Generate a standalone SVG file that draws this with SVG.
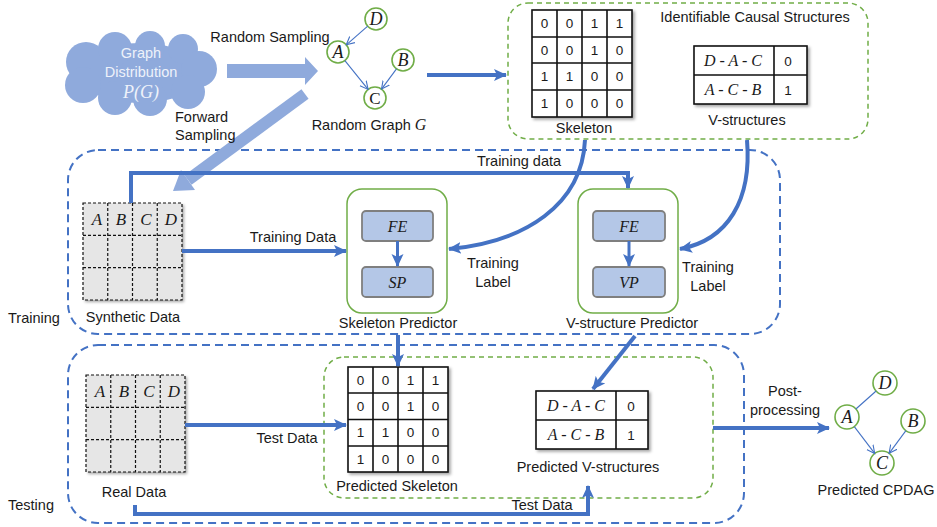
<svg xmlns="http://www.w3.org/2000/svg" width="937" height="527" viewBox="0 0 937 527">
<defs>
<style>
.t{font-family:"Liberation Sans",Arial,sans-serif;font-size:14.5px;fill:#1a1a1a}
.m{font-family:"Liberation Serif","Times New Roman",serif;font-style:italic;font-size:18px;fill:#1a1a1a}
.d{font-family:"Liberation Sans",Arial,sans-serif;font-size:13.5px;fill:#1a1a1a}
.blue{stroke:#4472C4;stroke-width:4;fill:none}
.node{fill:#fff;stroke:#70AD47;stroke-width:1.6}
.edge{stroke:#4472C4;stroke-width:1.1;fill:none}
.grid{fill:#fff;stroke:#111;stroke-width:1.6}
.dgrid{stroke:#111;stroke-width:1.2;stroke-dasharray:3 2;fill:none}
.inner{fill:#B4C7E7;stroke:#7F7F7F;stroke-width:1.8}
.pred{fill:#fff;stroke:#70AD47;stroke-width:1.5}
</style>
<marker id="ah" markerUnits="userSpaceOnUse" markerWidth="14" markerHeight="14" refX="12" refY="7" orient="auto"><path d="M0,1 L13,7 L0,13 L3,7 Z" fill="#4472C4"/></marker>
<marker id="oh" markerUnits="userSpaceOnUse" markerWidth="10" markerHeight="10" refX="8" refY="5" orient="auto"><path d="M0,1 L8,5 L0,9" fill="none" stroke="#4472C4" stroke-width="1.1"/></marker>
<filter id="sh" x="-10%" y="-10%" width="125%" height="125%"><feDropShadow dx="2" dy="2" stdDeviation="1.5" flood-color="#000" flood-opacity="0.35"/></filter>
</defs>
<rect width="937" height="527" fill="#fff"/>

<g id="training-box"><rect x="68" y="150" width="712" height="184" rx="30" fill="none" stroke="#4472C4" stroke-width="2" stroke-dasharray="8 5"/><text class="t" x="8" y="323">Training</text></g>
<g id="testing-box"><rect x="68" y="345" width="676" height="178" rx="30" fill="none" stroke="#4472C4" stroke-width="2" stroke-dasharray="8 5"/><text class="t" x="8" y="510">Testing</text></g>

<g id="graph-distribution">
<g fill="#8FAADC">
<ellipse cx="140" cy="73" rx="62" ry="30"/>
<circle cx="86" cy="62" r="20"/><circle cx="115" cy="49" r="17"/><circle cx="150" cy="46" r="15"/><circle cx="183" cy="49" r="15"/><circle cx="199" cy="69" r="18"/><circle cx="188" cy="92" r="17"/><circle cx="150" cy="99" r="17"/><circle cx="115" cy="98" r="17"/><circle cx="83" cy="85" r="18"/>
</g>
<text class="t" x="141" y="58" text-anchor="middle" style="fill:#eef2fa">Graph</text>
<text class="t" x="141" y="77" text-anchor="middle" style="fill:#eef2fa">Distribution</text>
<text class="m" x="141" y="98" text-anchor="middle" style="fill:#eef2fa">P(G)</text>
</g>

<g id="random-graph">
<circle class="node" cx="376" cy="19" r="11"/><text class="m" x="376" y="25" text-anchor="middle">D</text>
<circle class="node" cx="338" cy="52" r="11"/><text class="m" x="338" y="58" text-anchor="middle">A</text>
<circle class="node" cx="403" cy="60" r="11"/><text class="m" x="403" y="66" text-anchor="middle">B</text>
<circle class="node" cx="375" cy="98" r="11"/><text x="375" y="104" text-anchor="middle" style="font-family:'Liberation Serif',serif;font-size:17px;fill:#1a1a1a">C</text>
<line class="edge" x1="367.7" y1="26.2" x2="346.3" y2="44.8" marker-end="url(#oh)"/>
<line class="edge" x1="344.9" y1="60.6" x2="368.1" y2="89.4" marker-end="url(#oh)"/>
<line class="edge" x1="396.5" y1="68.9" x2="381.5" y2="89.1" marker-end="url(#oh)"/>
<text class="t" x="369" y="130" text-anchor="middle">Random Graph <tspan style="font-family:'Liberation Serif',serif;font-style:italic;font-size:16px">G</tspan></text>
</g>

<g id="identifiable-structures">
<rect x="508" y="3" width="360" height="136" rx="20" fill="none" stroke="#70AD47" stroke-width="1.5" stroke-dasharray="5 4"/>
<text class="t" x="755" y="22" text-anchor="middle">Identifiable Causal Structures</text>
<g id="skeleton">
<rect class="grid" x="532" y="10" width="100" height="107" filter="url(#sh)"/>
<path d="M557,10V117M582,10V117M607,10V117M532,37H632M532,63H632M532,90H632" stroke="#111" stroke-width="1.6"/>
<g class="d" text-anchor="middle">
<text x="544.5" y="28">0</text><text x="569.5" y="28">0</text><text x="594.5" y="28">1</text><text x="619.5" y="28">1</text>
<text x="544.5" y="55">0</text><text x="569.5" y="55">0</text><text x="594.5" y="55">1</text><text x="619.5" y="55">0</text>
<text x="544.5" y="81">1</text><text x="569.5" y="81">1</text><text x="594.5" y="81">0</text><text x="619.5" y="81">0</text>
<text x="544.5" y="108">1</text><text x="569.5" y="108">0</text><text x="594.5" y="108">0</text><text x="619.5" y="108">0</text>
</g>
<text class="t" x="584" y="133" text-anchor="middle">Skeleton</text>
</g>
<g id="v-structures">
<rect class="grid" x="694" y="46" width="113" height="58" filter="url(#sh)"/>
<path d="M774,46V104M694,75H807" stroke="#111" stroke-width="1.6"/>
<text class="m" x="733" y="66" text-anchor="middle" style="font-size:16px">D - A - C</text>
<text class="m" x="733" y="95" text-anchor="middle" style="font-size:16px">A - C - B</text>
<text class="d" x="788" y="66" text-anchor="middle">0</text>
<text class="d" x="788" y="95" text-anchor="middle">1</text>
<text class="t" x="747" y="125" text-anchor="middle">V-structures</text>
</g>
</g>

<g id="synthetic-data">
<rect x="83" y="203" width="99" height="97" fill="#e6e6e6" filter="url(#sh)"/>
<rect class="dgrid" x="83" y="203" width="99" height="97"/>
<path class="dgrid" d="M107.75,203V300M132.5,203V300M157.25,203V300M83,235.3H182M83,267.7H182"/>
<text class="m" x="97" y="225" text-anchor="middle" style="font-size:17px">A</text><text class="m" x="121" y="225" text-anchor="middle" style="font-size:17px">B</text><text class="m" x="146" y="225" text-anchor="middle" style="font-size:17px">C</text><text class="m" x="171" y="225" text-anchor="middle" style="font-size:17px">D</text>
<text class="t" x="133" y="322" text-anchor="middle">Synthetic Data</text>
</g>

<g id="skeleton-predictor">
<rect class="pred" x="347" y="189" width="100" height="124" rx="15"/>
<rect class="inner" x="362" y="211" width="71" height="30" rx="4"/>
<rect class="inner" x="362" y="267" width="71" height="30" rx="4"/>
<text class="m" x="397.5" y="232" text-anchor="middle" style="font-size:16px">FE</text>
<text class="m" x="397.5" y="288" text-anchor="middle" style="font-size:16px">SP</text>
<line x1="397.5" y1="241" x2="397.5" y2="266" stroke="#4472C4" stroke-width="3" marker-end="url(#ah)"/>
<text class="t" x="398" y="328" text-anchor="middle">Skeleton Predictor</text>
</g>

<g id="v-structure-predictor">
<rect class="pred" x="578" y="189" width="100" height="124" rx="15"/>
<rect class="inner" x="593" y="211" width="72" height="30" rx="4"/>
<rect class="inner" x="593" y="267" width="72" height="30" rx="4"/>
<text class="m" x="629" y="232" text-anchor="middle" style="font-size:16px">FE</text>
<text class="m" x="629" y="288" text-anchor="middle" style="font-size:16px">VP</text>
<line x1="629" y1="241" x2="629" y2="266" stroke="#4472C4" stroke-width="3" marker-end="url(#ah)"/>
<text class="t" x="632" y="328" text-anchor="middle">V-structure Predictor</text>
</g>

<g id="real-data">
<rect x="86" y="375" width="99" height="97" fill="#e6e6e6" filter="url(#sh)"/>
<rect class="dgrid" x="86" y="375" width="99" height="97"/>
<path class="dgrid" d="M110.75,375V472M135.5,375V472M160.25,375V472M86,407.3H185M86,439.7H185"/>
<text class="m" x="100" y="397" text-anchor="middle" style="font-size:17px">A</text><text class="m" x="124" y="397" text-anchor="middle" style="font-size:17px">B</text><text class="m" x="149" y="397" text-anchor="middle" style="font-size:17px">C</text><text class="m" x="174" y="397" text-anchor="middle" style="font-size:17px">D</text>
<text class="t" x="134" y="497" text-anchor="middle">Real Data</text>
</g>

<g id="predictions">
<rect x="324" y="357" width="389" height="141" rx="20" fill="none" stroke="#70AD47" stroke-width="1.5" stroke-dasharray="5 4"/>
<g id="predicted-skeleton">
<rect class="grid" x="348" y="367" width="100" height="105" filter="url(#sh)"/>
<path d="M373,367V472M398,367V472M423,367V472M348,393H448M348,419.5H448M348,446H448" stroke="#111" stroke-width="1.6"/>
<g class="d" text-anchor="middle">
<text x="360.5" y="385">0</text><text x="385.5" y="385">0</text><text x="410.5" y="385">1</text><text x="435.5" y="385">1</text>
<text x="360.5" y="411">0</text><text x="385.5" y="411">0</text><text x="410.5" y="411">1</text><text x="435.5" y="411">0</text>
<text x="360.5" y="437">1</text><text x="385.5" y="437">1</text><text x="410.5" y="437">0</text><text x="435.5" y="437">0</text>
<text x="360.5" y="464">1</text><text x="385.5" y="464">0</text><text x="410.5" y="464">0</text><text x="435.5" y="464">0</text>
</g>
<text class="t" x="397" y="491" text-anchor="middle">Predicted Skeleton</text>
</g>
<g id="predicted-v-structures">
<rect class="grid" x="536" y="391" width="112" height="58" filter="url(#sh)"/>
<path d="M616,391V449M536,420H648" stroke="#111" stroke-width="1.6"/>
<text class="m" x="576" y="411" text-anchor="middle" style="font-size:16px">D - A - C</text>
<text class="m" x="576" y="440" text-anchor="middle" style="font-size:16px">A - C - B</text>
<text class="d" x="631" y="411" text-anchor="middle">0</text>
<text class="d" x="631" y="440" text-anchor="middle">1</text>
<text class="t" x="588" y="472" text-anchor="middle">Predicted V-structures</text>
</g>
</g>

<g id="predicted-cpdag">
<circle class="node" cx="885" cy="383" r="12"/><text class="m" x="885" y="389" text-anchor="middle">D</text>
<circle class="node" cx="847" cy="417" r="12"/><text class="m" x="847" y="423" text-anchor="middle">A</text>
<circle class="node" cx="913" cy="421" r="12"/><text class="m" x="913" y="427" text-anchor="middle">B</text>
<circle class="node" cx="882" cy="463" r="12"/><text class="m" x="882" y="469" text-anchor="middle">C</text>
<line class="edge" x1="876.1" y1="391" x2="855.9" y2="409"/>
<line class="edge" x1="854.3" y1="426.6" x2="874.7" y2="453.4" marker-end="url(#oh)"/>
<line class="edge" x1="905.9" y1="430.7" x2="889.1" y2="453.3" marker-end="url(#oh)"/>
<text class="t" x="876" y="495" text-anchor="middle">Predicted CPDAG</text>
</g>

<g id="connectors">
<polygon points="227,64 305,64 305,57 318,71 305,85 305,78 227,78" fill="#8FAADC"/>
<text class="t" x="270" y="42" text-anchor="middle">Random Sampling</text>
<line x1="305" y1="94" x2="188" y2="180" stroke="#8FAADC" stroke-width="12"/>
<polygon points="173,191 195,190 181,170" fill="#8FAADC"/>
<text class="t" x="175" y="122">Forward</text>
<text class="t" x="175" y="140">Sampling</text>
<line class="blue" x1="427" y1="75" x2="506" y2="75" marker-end="url(#ah)"/>
<path class="blue" d="M131,203V173H628V188" marker-end="url(#ah)"/>
<text class="t" x="519" y="166" text-anchor="middle">Training data</text>
<line class="blue" x1="182" y1="251" x2="346" y2="251" marker-end="url(#ah)"/>
<text class="t" x="293" y="242" text-anchor="middle">Training Data</text>
<path class="blue" d="M585,140C582,205 525,242 449,249" marker-end="url(#ah)"/>
<text class="t" x="493" y="268" text-anchor="middle">Training</text>
<text class="t" x="493" y="287" text-anchor="middle">Label</text>
<path class="blue" d="M747,140C752,200 728,240 680,249" marker-end="url(#ah)"/>
<text class="t" x="708" y="272" text-anchor="middle">Training</text>
<text class="t" x="708" y="291" text-anchor="middle">Label</text>
<line class="blue" x1="398" y1="335" x2="398" y2="366" marker-end="url(#ah)"/>
<line class="blue" x1="635" y1="336" x2="593" y2="389" marker-end="url(#ah)"/>
<line class="blue" x1="185" y1="425" x2="346" y2="425" marker-end="url(#ah)"/>
<text class="t" x="287" y="443" text-anchor="middle">Test Data</text>
<path class="blue" d="M135,505V514H588V486" marker-end="url(#ah)"/>
<text class="t" x="542" y="510" text-anchor="middle">Test Data</text>
<line class="blue" x1="713" y1="428" x2="829" y2="428" marker-end="url(#ah)"/>
<text class="t" x="785" y="396" text-anchor="middle">Post-</text>
<text class="t" x="785" y="415" text-anchor="middle">processing</text>
</g>
</svg>
